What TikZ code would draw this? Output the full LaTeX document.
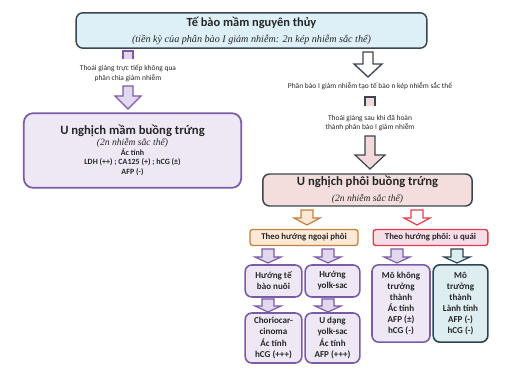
\documentclass[tikz,border=0pt]{standalone}
\usepackage{fontspec}
\setmainfont{Carlito}
\newfontfamily\capfont{Liberation Serif}
\usetikzlibrary{calc}
\definecolor{slateline}{HTML}{3B4650}
\definecolor{germfill}{HTML}{DDEFF7}
\definecolor{purpleline}{HTML}{7B5BA8}
\definecolor{purplefill}{HTML}{EEE8F4}
\definecolor{purplearrowfill}{HTML}{E2D8EE}
\definecolor{pinkfill}{HTML}{F3DEDD}
\definecolor{pinkarrowfill}{HTML}{F4D9DA}
\definecolor{orangeline}{HTML}{C4803F}
\definecolor{orangefill}{HTML}{FBE8D5}
\definecolor{redline}{HTML}{E23B4A}
\definecolor{redfill}{HTML}{F6DDE8}
\definecolor{tealline}{HTML}{2D4553}
\definecolor{tealfill}{HTML}{DEEDF0}
\definecolor{textgray}{HTML}{262626}

\newcommand{\blockdown}[6]{%
  \draw[#1] ($(#2)+(-#4,0)$) -- ($(#3)+(-#4,-#6)$) -- ($(#3)+(-#5,-#6)$) -- (#3)
    -- ($(#3)+(#5,-#6)$) -- ($(#3)+(#4,-#6)$) -- ($(#2)+(#4,0)$) -- cycle;}
\newcommand{\stubdown}[4]{%
  \fill[#1, draw=none] ($(#2)+(-#3,0)$) rectangle ($(#2)+(#3,#4)$);
  \draw[#1, fill=none] ($(#2)+(-#3,#4)$) -- ($(#2)+(-#3,0)$) -- ($(#2)+(#3,0)$) -- ($(#2)+(#3,#4)$);}

\begin{document}
\begin{tikzpicture}[x=0.75pt, y=-0.75pt,
    box/.style={rounded corners=5pt, line width=1pt, align=center, inner sep=1pt,
                text=textgray},
    germbox/.style={box, draw=slateline, fill=germfill, line width=1.1pt},
    mambox/.style={box, draw=purpleline, fill=purplefill, line width=1.3pt, rounded corners=7pt,
                   font=\fontsize{6}{7.2}\selectfont\bfseries},
    phoibox/.style={box, draw=slateline, fill=pinkfill, line width=1.1pt},
    ngoaibox/.style={box, draw=orangeline, fill=orangefill, rounded corners=2pt,
                     font=\fontsize{6.6}{8}\selectfont\bfseries},
    quaibox/.style={box, draw=redline, fill=redfill, rounded corners=2pt,
                    font=\fontsize{6.6}{8}\selectfont\bfseries},
    purplebox/.style={box, draw=purpleline, fill=purplefill, line width=1.2pt,
                      font=\fontsize{6.8}{8.3}\selectfont\bfseries},
    tealbox/.style={box, draw=tealline, fill=tealfill, line width=1.2pt,
                    font=\fontsize{6.8}{8.3}\selectfont\bfseries},
    note/.style={align=center, inner sep=0pt, text=textgray,
                 font=\fontsize{5.6}{7}\selectfont},
    caption/.style={font=\capfont\itshape},
    purplearrow/.style={draw=purpleline, fill=purplearrowfill, line width=0.9pt},
    whitearrow/.style={draw=slateline, fill=white, line width=1pt},
    pinkarrow/.style={draw=slateline, fill=pinkarrowfill, line width=0.9pt},
    orangearrow/.style={draw=orangeline, fill=orangefill, line width=0.9pt},
    redarrow/.style={draw=redline, fill=white, line width=0.9pt},
    tealarrow/.style={draw=tealline, fill=tealfill, line width=0.9pt},
  ]
  \useasboundingbox (0,0) rectangle (506,373);

  \node[germbox, minimum width=263pt, minimum height=26.5pt] (germ) at (251.5,30.5)
    {{\fontsize{9.3}{10.5}\selectfont\bfseries Tế bào mầm nguyên thủy}\\
     {\fontsize{7.6}{9}\selectfont\capfont\itshape (tiền kỳ của phân bào I giảm nhiễm: 2n kép nhiễm sắc thể)}};

  \node[note] (lnote) at (128,73.5) {Thoái giảng trực tiếp không qua\\phân chia giảm nhiễm};
  \node[mambox, minimum width=163pt, minimum height=56pt] (mam) at (132.5,150.5)
    {{\fontsize{9.5}{11}\selectfont U nghịch mầm buồng trứng}\\[1pt]
     {\fontsize{7.2}{8}\selectfont\capfont\mdseries\itshape (2n nhiễm sắc thể)}\\
     Ác tính\\ LDH (++) ; CA125 (+) ; hCG (±)\\ AFP (-)};

  \node[note] (rnote1) at (370,86) {Phân bào I giảm nhiễm tạo tế bào n kép nhiễm sắc thể};
  \node[note] (rnote2) at (370,123) {Thoái giảng sau khi đã hoàn\\thành phân bào I giảm nhiễm};
  \node[phoibox, minimum width=157pt, minimum height=24pt] (phoi) at (367.5,190)
    {{\fontsize{9.5}{10}\selectfont\bfseries U nghịch phôi buồng trứng}\\
     {\fontsize{7.2}{8}\selectfont\capfont\itshape (2n nhiễm sắc thể)}};

  \node[ngoaibox, minimum width=81pt, minimum height=12pt] (ngoai) at (304,237.5) {Theo hướng ngoại phôi};
  \node[quaibox, minimum width=86pt, minimum height=12pt] (quai) at (430.5,237.5) {Theo hướng phôi: u quái};

  \node[purplebox, minimum width=42.5pt, minimum height=24pt] (nuoi) at (273.5,281) {Hướng tế\\bào nuôi};
  \node[purplebox, minimum width=41pt, minimum height=24pt] (yolk) at (332.5,281) {Hướng\\yolk-sac};
  \node[purplebox, minimum width=42.5pt, minimum height=37.5pt, font=\fontsize{6.8}{8.7}\selectfont\bfseries]
    (chorio) at (273.5,338) {Choriocar-\\cinoma\\Ác tính\\hCG (+++)};
  \node[purplebox, minimum width=41pt, minimum height=37.5pt, font=\fontsize{6.8}{8.7}\selectfont\bfseries]
    (yolktumor) at (332.5,338) {U dạng\\yolk-sac\\Ác tính\\AFP (+++)};
  \node[purplebox, minimum width=43.5pt, minimum height=58pt] (immature) at (401,303.5)
    {Mô không\\trưởng\\thành\\Ác tính\\AFP (±)\\hCG (-)};
  \node[tealbox, minimum width=41pt, minimum height=58pt] (mature) at (460.5,303.5)
    {Mô\\trưởng\\thành\\Lành tính\\AFP (-)\\hCG (-)};

  \coordinate (lstubtop) at (128,51);
  \coordinate (larrowtop) at (128,86);
  \coordinate (larrowtip) at (128,109);
  \coordinate (rarrowtop) at (368,52);
  \coordinate (rarrowtip) at (368,77);
  \coordinate (rstubtop) at (370,97);
  \coordinate (parrowtop) at (370,136);
  \coordinate (parrowtip) at (370,169);
  \coordinate (oarrowtop) at (307,210);
  \coordinate (oarrowtip) at (307,225);
  \coordinate (qarrowtop) at (417,210);
  \coordinate (qarrowtip) at (417,225);

  \stubdown{purplearrow}{lstubtop}{5}{8}
  \blockdown{purplearrow}{larrowtop}{larrowtip}{5}{13}{13}
  \blockdown{whitearrow}{rarrowtop}{rarrowtip}{5}{14}{13}
  \stubdown{pinkarrow}{rstubtop}{5}{9}
  \blockdown{pinkarrow}{parrowtop}{parrowtip}{5}{15}{14}
  \blockdown{orangearrow}{oarrowtop}{oarrowtip}{6}{13}{7}
  \blockdown{redarrow}{qarrowtop}{qarrowtip}{6}{13}{7}

  \foreach \cx/\sty in {268/purplearrow, 328/purplearrow, 397/purplearrow, 457/tealarrow} {
    \coordinate (top\cx) at (\cx,249);
    \coordinate (tip\cx) at (\cx,263);
    \blockdown{\sty}{top\cx}{tip\cx}{6}{13}{6}
  }
  \foreach \cx in {268, 328} {
    \coordinate (low\cx) at (\cx,299);
    \coordinate (lowtip\cx) at (\cx,312);
    \blockdown{purplearrow}{low\cx}{lowtip\cx}{6}{13}{6}
  }
\end{tikzpicture}
\end{document}
